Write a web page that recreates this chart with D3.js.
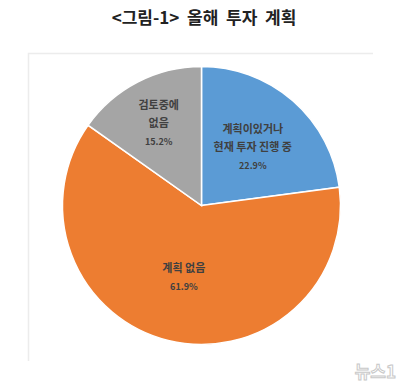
<!DOCTYPE html>
<html>
<head>
<meta charset="utf-8">
<script src="https://cdn.jsdelivr.net/npm/d3@7"></script>
<style>
  body { margin: 0; background: #fff; }
  svg { display: block; font-family: "Noto Sans CJK KR", "Noto Sans", sans-serif; }
</style>
</head>
<body>
<div id="chart-area"></div>
<script>
// chart data
var categories = ['계획이 있거나 현재 투자 진행 중', '계획 없음', '검토 중에 없음'];
var values = [22.9, 61.9, 15.2];
var labelLines = [['계획이있거나', '현재 투자 진행 중'], ['계획 없음'], ['검토중에', '없음']];
var colors = ['#5b9bd5', '#ed7d31', '#a5a5a5'];

var width = 407, height = 391;
var cx = 201.5, cy = 205.5, radius = 139;
// how far out each label sits, as a share of the radius
var labelFactor = [0.56, 0.53, 0.67];

var svg = d3.select('#chart-area')
  .append('svg')
    .attr('width', width)
    .attr('height', height);

// title
svg.append('text')
  .attr('x', 204)
  .attr('y', 24)
  .attr('text-anchor', 'middle')
  .attr('font-size', '17px')
  .attr('font-weight', 'bold')
  .attr('fill', '#222')
  .style('white-space', 'pre')
  .text('<그림-1>  올해  투자  계획');

// faint chart frame (only top and left edges show)
svg.append('path')
  .attr('d', 'M28.5,361 V53.5 H373')
  .attr('fill', 'none')
  .attr('stroke', '#ececec')
  .attr('stroke-width', 1.5);

var g = svg.append('g')
  .attr('transform', 'translate(' + cx + ', ' + cy + ')');

var pie = d3.pie().sort(null).value(d => d);
var arcs = pie(values);

var arc = d3.arc().innerRadius(0).outerRadius(radius);

g.selectAll('path')
  .data(arcs)
  .enter()
  .append('path')
    .attr('d', arc)
    .attr('fill', (d, i) => colors[i])
    .attr('stroke', '#fff')
    .attr('stroke-width', 1.5);

// labels inside slices
var labels = g.selectAll('g.label')
  .data(arcs)
  .enter()
  .append('g')
    .attr('class', 'label')
    .attr('transform', (d, i) => {
      var r = radius * labelFactor[i];
      var c = d3.arc().innerRadius(r).outerRadius(r).centroid(d);
      return 'translate(' + c[0] + ', ' + c[1] + ')';
    });

labels.each(function (d, i) {
  var lines = labelLines[i].concat([values[i].toFixed(1) + '%']);
  var n = lines.length;
  var lh = 18;
  d3.select(this).selectAll('text')
    .data(lines)
    .enter()
    .append('text')
      .attr('text-anchor', 'middle')
      .attr('y', (t, j) => (j - (n - 1) / 2) * lh + 4)
      .attr('font-size', (t, j) => j === n - 1 ? '9px' : '11px')
      .attr('font-weight', 'bold')
      .attr('fill', '#404040')
      .style('white-space', 'pre')
      .text(t => t);
});

// watermark
svg.append('text')
  .attr('x', 396)
  .attr('y', 378)
  .attr('text-anchor', 'end')
  .attr('font-size', '17px')
  .attr('font-weight', 'bold')
  .attr('fill', '#fff')
  .attr('stroke', '#c8c8c8')
  .attr('stroke-width', 1)
  .text('뉴스1');
</script>
</body>
</html>
